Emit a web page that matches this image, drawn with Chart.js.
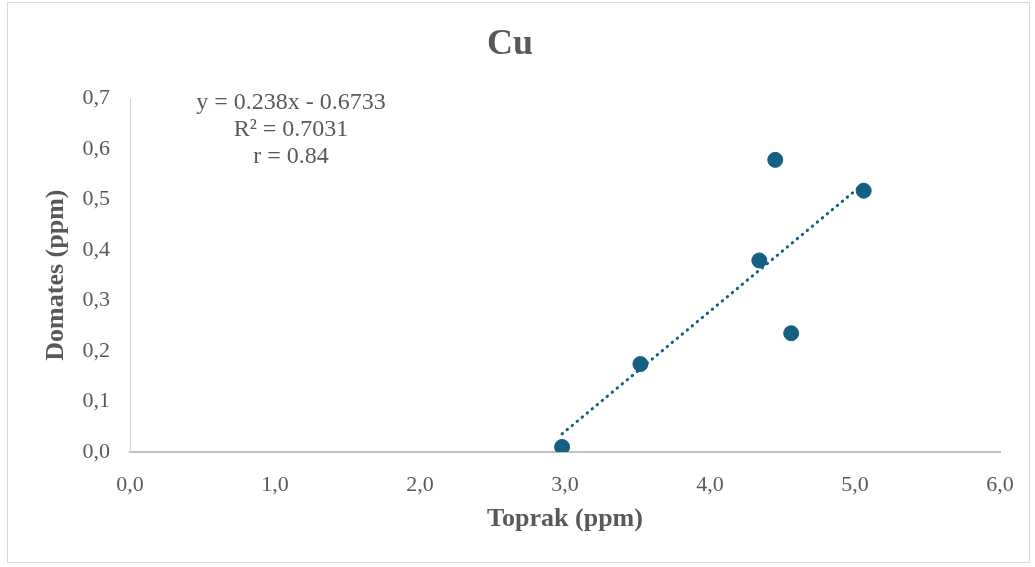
<!DOCTYPE html>
<html>
<head>
<meta charset="utf-8">
<script src="https://cdn.jsdelivr.net/npm/chart.js@4"></script>
<style>
  html, body { margin: 0; padding: 0; background: #fff; }
  #wrap { width: 1035px; height: 567px; }
</style>
</head>
<body>
<div id="wrap"><canvas id="chart" width="1035" height="567"></canvas></div>
<script>
'use strict'

// soil (x) vs tomato (y) Cu values, ppm
const toprak = [2.98, 3.52, 4.34, 4.45, 4.56, 5.06]
const domates = [0.010, 0.174, 0.379, 0.578, 0.235, 0.517]

// trendline as reported on the chart
const slope = 0.238
const intercept = -0.6733
const equationLines = ['y = 0.238x - 0.6733', 'R² = 0.7031', 'r = 0.84']

const xTicks = [0, 1, 2, 3, 4, 5, 6]
const yTicks = [0, 0.1, 0.2, 0.3, 0.4, 0.5, 0.6, 0.7]

const blue = '#156082'
const grey = '#595959'
const serif = '"Liberation Serif", "Times New Roman", serif'

const points = toprak.map((x, i) => ({ x: x, y: domates[i] }))
const xMin = Math.min(...toprak)
const xMax = Math.max(...toprak)
const trend = [xMin, xMax].map(x => ({ x: x, y: slope * x + intercept }))

const fmt = v => v.toFixed(1).replace('.', ',')

// light frame round the whole chart
const framePlugin = {
  id: 'frame',
  beforeDraw (chart) {
    const c = chart.ctx
    c.save()
    c.strokeStyle = '#d9d9d9'
    c.lineWidth = 1
    c.strokeRect(7.5, 2.5, 1022, 560)
    c.restore()
  }
}

// equation text box
const equationPlugin = {
  id: 'equation',
  afterDatasetsDraw (chart) {
    const c = chart.ctx
    const cx = chart.chartArea.left + 161
    c.save()
    c.font = '24px ' + serif
    c.fillStyle = grey
    c.textAlign = 'center'
    c.textBaseline = 'middle'
    equationLines.forEach((t, i) => c.fillText(t, cx, 103 + i * 27))
    c.restore()
  }
}

const ctx = document.getElementById('chart')

const cuChart = new Chart(ctx, {
  type: 'scatter',
  data: {
    datasets: [{
      label: 'Doğrusal',
      data: trend,
      showLine: true,
      borderColor: blue,
      borderWidth: 3,
      borderDash: [0.5, 6],
      borderCapStyle: 'round',
      pointRadius: 0,
      order: 2
    },
    {
      label: 'Cu',
      data: points,
      backgroundColor: blue,
      borderColor: blue,
      pointRadius: 7.5,
      order: 1
    }]
  },
  options: {
    responsive: false,
    animation: false,
    layout: { padding: { left: 20, right: 35, top: 10, bottom: 20 } },
    plugins: {
      legend: { display: false },
      tooltip: { enabled: false },
      title: {
        display: true,
        text: 'Cu',
        color: grey,
        font: { family: serif, size: 36, weight: 'bold' },
        padding: { top: 13, bottom: 32 }
      }
    },
    scales: {
      x: {
        type: 'linear',
        min: 0,
        max: 6,
        afterBuildTicks: axis => { axis.ticks = xTicks.map(v => ({ value: v })) },
        afterFit: axis => { axis.height = 95 },
        grid: { display: false, drawTicks: false },
        border: { color: '#bfbfbf', width: 2 },
        ticks: {
          color: grey,
          font: { family: serif, size: 22 },
          padding: 20,
          callback: v => fmt(v)
        },
        title: {
          display: true,
          text: 'Toprak (ppm)',
          color: grey,
          font: { family: serif, size: 26, weight: 'bold' },
          padding: { top: 4, bottom: 12 }
        }
      },
      y: {
        type: 'linear',
        min: 0,
        max: 0.7,
        afterBuildTicks: axis => { axis.ticks = yTicks.map(v => ({ value: v })) },
        afterFit: axis => { axis.width = 110 },
        grid: { display: false, drawTicks: false },
        border: { color: '#d0d0d0', width: 1 },
        ticks: {
          color: grey,
          font: { family: serif, size: 22 },
          padding: 20,
          callback: v => fmt(v)
        },
        title: {
          display: true,
          text: 'Domates (ppm)',
          color: grey,
          font: { family: serif, size: 26, weight: 'bold' },
          padding: { top: 21, bottom: 0 }
        }
      }
    }
  },
  plugins: [framePlugin, equationPlugin]
})
</script>
</body>
</html>
